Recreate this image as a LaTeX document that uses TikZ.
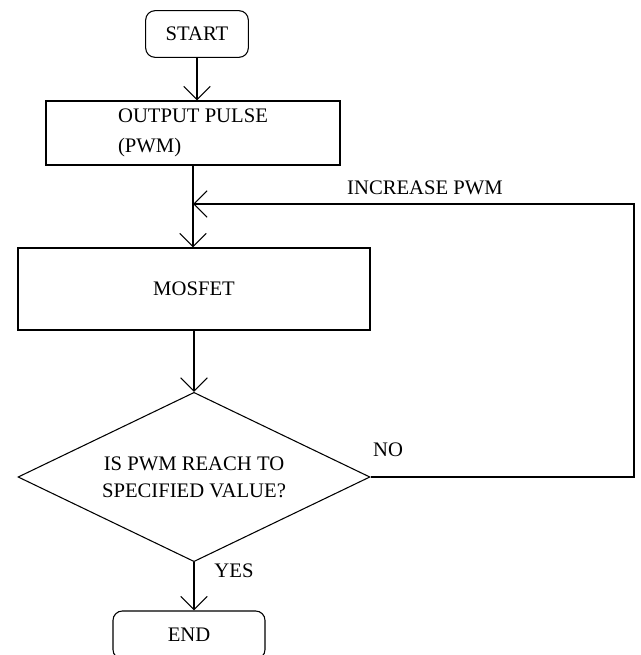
\documentclass[tikz,border=0pt]{standalone}
\usepackage{fontspec}
\setmainfont{Liberation Serif}
\usetikzlibrary{shapes,arrows.meta}

\begin{document}
\begin{tikzpicture}[x=0.75pt,y=-0.75pt,
	font=\fontsize{15.5}{22.5}\selectfont,
	term/.style={draw,rounded corners=7pt,minimum width=77pt,minimum height=35pt,line width=0.8pt},
	proc/.style={draw,line width=0.8pt,inner sep=0pt},
	check/.style={draw,diamond,aspect=2.08,inner sep=0pt,minimum width=264pt,minimum height=127pt,line width=0.8pt,align=center,font=\fontsize{15.5}{20}\selectfont},
	flow/.style={line width=0.8pt,-{Straight Barb[length=10pt,width=20pt]}}]
				\useasboundingbox (0,0) rectangle (640,655);
				\node[term] (start) at (197,34) {START};
				\node[proc,minimum width=220.5pt,minimum height=48pt,align=left,text depth=4pt] (pulse) at (193,133) {OUTPUT PULSE\\(PWM)};
				\node[proc,minimum width=264pt,minimum height=61.5pt] (mosfet) at (194,289) {MOSFET};
				\node[check] (reach) at (194,477) {IS PWM REACH TO\\SPECIFIED VALUE?};
				\node[term,minimum width=114pt,minimum height=36pt] (finish) at (189,635) {END};
				\coordinate (join) at (193,204);
				\coordinate (rail) at (634,204);
				\draw[flow] (start.south) -- (start.south |- pulse.north);
				\draw[flow] (pulse.south) -- (pulse.south |- mosfet.north);
				\draw[flow] (mosfet.south) -- (reach.north);
				\draw[flow] (reach.south) -- (reach.south |- finish.north);
				\draw[flow] (reach.east) -| (rail) -- (join);
				\node (yes) at (234,571) {YES};
				\node (no) at (388,450) {NO};
				\node (incr) at (425,188) {INCREASE PWM};
			\end{tikzpicture}
\end{document}
